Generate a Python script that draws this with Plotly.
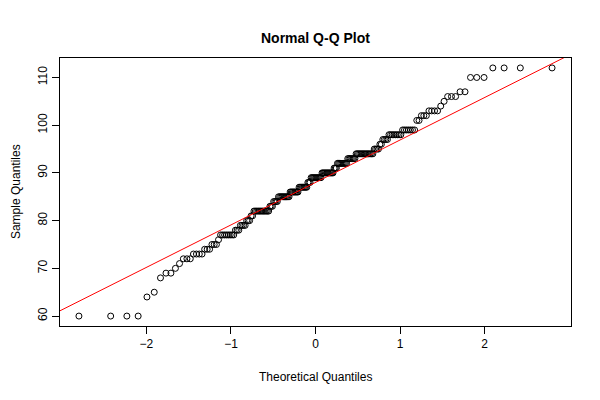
from statistics import NormalDist

import numpy as np
import plotly.graph_objects as go

# sorted sample values and how many times each occurs
sample_values = [60, 64, 65, 68, 69, 70, 71, 72, 73, 74, 75, 76, 77, 78, 79, 80,
                 81, 82, 83, 84, 85, 86, 87, 88, 89, 90, 91, 92, 93, 94, 95, 96,
                 97, 98, 99, 101, 102, 103, 104, 105, 106, 107, 110, 112]
value_counts = [4, 1, 1, 1, 2, 1, 1, 3, 4, 3, 3, 1, 8, 3, 4, 3,
                2, 12, 3, 4, 10, 8, 8, 3, 10, 11, 3, 9, 7, 14, 4, 2,
                4, 8, 7, 2, 3, 4, 1, 1, 3, 2, 3, 4]
x_ticks = [-2, -1, 0, 1, 2]
y_ticks = [60, 70, 80, 90, 100, 110]

y = np.repeat(sample_values, value_counts).astype(float)
n = len(y)

# theoretical quantiles, same as R's qnorm(ppoints(n))
a = 3 / 8 if n <= 10 else 0.5
nd = NormalDist()
x = np.array([nd.inv_cdf((i + 1 - a) / (n + 1 - 2 * a)) for i in range(n)])

# qqline: through the first and third quartiles
q1, q3 = np.quantile(y, [0.25, 0.75])
z1, z3 = nd.inv_cdf(0.25), nd.inv_cdf(0.75)
slope = (q3 - q1) / (z3 - z1)
intercept = q1 - slope * z1

# R style 4% padding of the ranges
xr = [x.min() - 0.04 * (x.max() - x.min()), x.max() + 0.04 * (x.max() - x.min())]
yr = [y.min() - 0.04 * (y.max() - y.min()), y.max() + 0.04 * (y.max() - y.min())]
line_x = np.array([xr[0] - 1, xr[1] + 1])

font = dict(family="Liberation Sans, Arial, sans-serif", color="black")

fig = go.Figure()
fig.add_trace(go.Scatter(
    x=x, y=y, mode="markers",
    marker=dict(symbol="circle-open", size=6, color="black", line=dict(width=1)),
))
fig.add_trace(go.Scatter(
    x=line_x, y=intercept + slope * line_x, mode="lines",
    line=dict(color="red", width=1),
))

axis_style = dict(
    showgrid=False, zeroline=False, showline=True, mirror=True,
    linecolor="black", linewidth=1, ticks="outside", ticklen=7,
    tickcolor="black", tickfont=dict(size=12, **font),
)
fig.update_layout(
    width=600, height=400,
    margin=dict(l=52, r=37, t=50, b=82),
    paper_bgcolor="white", plot_bgcolor="white",
    showlegend=False,
    font=font,
    xaxis=dict(range=xr, tickvals=x_ticks,
               ticktext=["\u22122", "\u22121", "0", "1", "2"], **axis_style),
    yaxis=dict(range=yr, tickvals=y_ticks, tickangle=-90, **axis_style),
    annotations=[
        dict(text="<b>Normal Q-Q Plot</b>", x=0.5, y=1.0746, xref="paper",
             yref="paper", xanchor="center", yanchor="middle",
             showarrow=False, font=dict(size=14, **font)),
        dict(text="Theoretical Quantiles", x=0.5, y=-0.19, xref="paper",
             yref="paper", xanchor="center", yanchor="middle",
             showarrow=False, font=dict(size=12, **font)),
        dict(text="Sample Quantiles", x=-0.086, y=0.5, xref="paper",
             yref="paper", xanchor="center", yanchor="middle",
             showarrow=False, textangle=-90, font=dict(size=12, **font)),
    ],
)

fig.write_html("out.html")
